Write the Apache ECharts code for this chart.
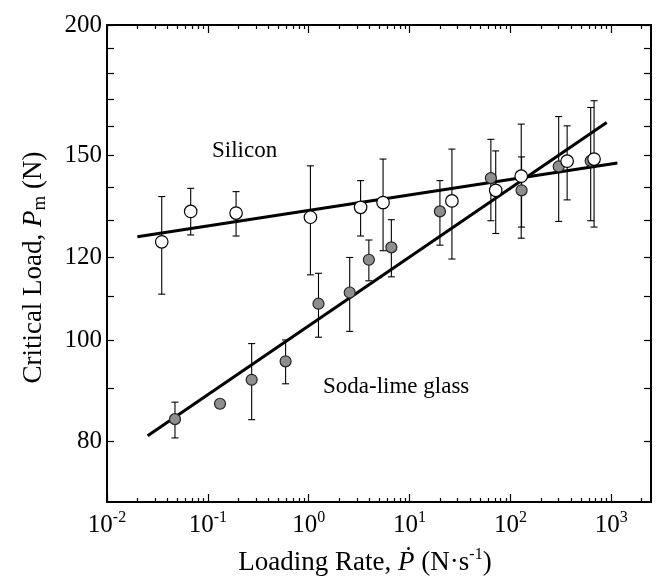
<!DOCTYPE html>
<html><head><meta charset="utf-8">
<script src="https://cdn.jsdelivr.net/npm/echarts@6/dist/echarts.min.js"></script>
<style>html,body{margin:0;padding:0;background:#fff}#c{width:657px;height:582px}</style>
</head><body><div id="c"></div>
<script>
// ---- data ----
const silX    = [0.0349, 0.0676, 0.1905, 1.04, 3.27, 5.46, 26.3, 71.5, 128, 365, 675];
const silY    = [124.1, 132.7, 132.2, 131.0, 133.9, 135.3, 135.8, 139.0, 143.4, 148.2, 148.9];
const silLow  = [110.6, 126.0, 125.7, 115.4, 125.7, 121.7, 119.5, 126.4, 125.1, 136.1, 128.2];
const silHigh = [137.1, 139.6, 138.6, 146.7, 142.0, 148.9, 152.2, 151.6, 160.8, 160.2, 169.3];

const glsX    = [0.0472, 0.132, 0.272, 0.59, 1.25, 2.55, 3.95, 6.6, 20.0, 64, 129, 301, 625];
const glsY    = [84.0, 86.9, 91.6, 95.4, 108.3, 111.0, 119.3, 122.6, 132.7, 142.8, 139.0, 146.5, 148.3];
const glsLow  = [80.6, 86.1, 83.9, 90.8, 100.6, 101.9, 113.9, 114.9, 123.2, 130.0, 128.2, 129.8, 130.0];
const glsHigh = [87.2, 87.7, 99.2, 100.0, 115.8, 119.9, 124.6, 130.3, 142.0, 155.5, 149.6, 163.5, 166.8];

const silFitX = [0.02, 1150];
const silFitY = [125.5, 147.6];
const glsFitX = [0.0253, 900];
const glsFitY = [81.0, 161.4];

const xMin = 0.01, xMax = 2477;
const yMin = 70, yMax = 200;
const xMajorTicks = [0.01, 0.1, 1, 10, 100, 1000];
const xMinorMult  = [2, 3, 4, 5, 6, 7, 8, 9];
const yTicks  = [80, 90, 100, 110, 120, 130, 140, 150, 160, 170, 180, 190, 200];
const yLabels = [80, 100, 120, 150, 200];
// ---------------

const xMinorTicks = [];
xMajorTicks.forEach(d => xMinorMult.forEach(m => {
  const v = Number((m * d).toPrecision(6));
  if (v < xMax) xMinorTicks.push(v);
}));

const FONT = '"Liberation Serif", "DejaVu Serif", serif';
const chart = echarts.init(document.getElementById('c'), null, {renderer: 'canvas'});

const errSeries = (xs, lo, hi) => ({
  type: 'custom', xAxisIndex: 0, yAxisIndex: 0, z: 2, silent: true,
  data: xs.map((x, i) => [x, lo[i], hi[i]]),
  encode: {x: 0, y: [1, 2]},
  renderItem: (params, api) => {
    const x = api.value(0);
    const p1 = api.coord([x, api.value(1)]);
    const p2 = api.coord([x, api.value(2)]);
    const hw = 3.5;
    const st = {stroke: '#000', lineWidth: 1.1};
    return {type: 'group', children: [
      {type: 'line', shape: {x1: p1[0], y1: p1[1], x2: p2[0], y2: p2[1]}, style: st},
      {type: 'line', shape: {x1: p1[0] - hw, y1: p1[1], x2: p1[0] + hw, y2: p1[1]}, style: st},
      {type: 'line', shape: {x1: p2[0] - hw, y1: p2[1], x2: p2[0] + hw, y2: p2[1]}, style: st}
    ]};
  }
});

const axLine = {show: true, lineStyle: {color: '#000', width: 2}};
const mkX = (position, ticks, len, withLabel, withLine) => ({
  type: 'log', logBase: 10, min: xMin, max: xMax, position: position, gridIndex: 0,
  axisLine: withLine ? axLine : {show: false},
  axisTick: {show: true, inside: true, length: len, customValues: ticks, lineStyle: {color: '#000', width: 1.2}},
  axisLabel: withLabel ? {
    show: true, customValues: xMajorTicks, margin: 8,
    formatter: v => '{b|10}{s|' + Math.round(Math.log10(v)) + '}',
    rich: {
      b: {fontFamily: FONT, fontSize: 25, color: '#000', lineHeight: 30, verticalAlign: 'middle'},
      s: {fontFamily: FONT, fontSize: 16, color: '#000', lineHeight: 14, verticalAlign: 'top'}
    }
  } : {show: false},
  splitLine: {show: false}, minorTick: {show: false}
});
const mkY = (position, withLabel) => ({
  type: 'log', logBase: 10, min: yMin, max: yMax, position: position, gridIndex: 0,
  axisLine: axLine,
  axisTick: {show: true, inside: true, length: 7, customValues: yTicks, lineStyle: {color: '#000', width: 1.2}},
  axisLabel: withLabel ? {
    show: true, customValues: yLabels, margin: 5,
    fontFamily: FONT, fontSize: 25, color: '#000',
    formatter: v => String(Math.round(v))
  } : {show: false},
  splitLine: {show: false}, minorTick: {show: false}
});

const xAxes = [
  mkX('bottom', xMajorTicks, 8, true, true),
  mkX('bottom', xMinorTicks, 4, false, false),
  mkX('top', xMajorTicks, 8, false, true),
  mkX('top', xMinorTicks, 4, false, false)
];
Object.assign(xAxes[0], {
  name: '{t|Loading Rate, }{i|\u1E56}{t| (N\u00B7s}{s|-1}{t|)}',
  nameLocation: 'middle', nameGap: 45,
  nameTextStyle: {
    fontFamily: FONT, fontSize: 27, color: '#000', padding: [0, 28, 0, 0],
    rich: {
      t: {fontFamily: FONT, fontSize: 27, color: '#000', lineHeight: 32, verticalAlign: 'middle'},
      i: {fontFamily: FONT, fontSize: 27, color: '#000', fontStyle: 'italic', lineHeight: 32, verticalAlign: 'middle'},
      s: {fontFamily: FONT, fontSize: 16, color: '#000', lineHeight: 15, verticalAlign: 'top'}
    }
  }
});
const yAxes = [mkY('left', true), mkY('right', false)];
Object.assign(yAxes[0], {
  name: '{t|Critical Load, }{i|P}{m|m}{t| (N)}',
  nameLocation: 'middle', nameGap: 57,
  nameTextStyle: {
    fontFamily: FONT, fontSize: 27, color: '#000', padding: [0, 8, 0, 0],
    rich: {
      t: {fontFamily: FONT, fontSize: 27, color: '#000', lineHeight: 32, verticalAlign: 'middle'},
      i: {fontFamily: FONT, fontSize: 27, color: '#000', fontStyle: 'italic', lineHeight: 32, verticalAlign: 'middle'},
      m: {fontFamily: FONT, fontSize: 19, color: '#000', lineHeight: 17, verticalAlign: 'bottom'}
    }
  }
});

chart.setOption({
  animation: false,
  backgroundColor: '#fff',
  grid: {left: 107, right: 6, top: 25, bottom: 80, containLabel: false},
  xAxis: xAxes,
  yAxis: yAxes,
  series: [
    errSeries(silX, silLow, silHigh),
    errSeries(glsX, glsLow, glsHigh),
    {type: 'line', xAxisIndex: 0, yAxisIndex: 0, z: 3, showSymbol: false, silent: true,
     data: silFitX.map((x, i) => [x, silFitY[i]]), lineStyle: {color: '#000', width: 3}},
    {type: 'line', xAxisIndex: 0, yAxisIndex: 0, z: 3, showSymbol: false, silent: true,
     data: glsFitX.map((x, i) => [x, glsFitY[i]]), lineStyle: {color: '#000', width: 3}},
    {type: 'scatter', name: 'Soda-lime glass', xAxisIndex: 0, yAxisIndex: 0, z: 4,
     symbol: 'circle', symbolSize: 11,
     data: glsX.map((x, i) => [x, glsY[i]]),
     itemStyle: {color: '#8e8e8e', borderColor: '#222', borderWidth: 1.2, opacity: 1}},
    {type: 'scatter', name: 'Silicon', xAxisIndex: 0, yAxisIndex: 0, z: 5,
     symbol: 'circle', symbolSize: 12.5,
     data: silX.map((x, i) => [x, silY[i]]),
     itemStyle: {color: '#fff', borderColor: '#000', borderWidth: 1.2, opacity: 1}}
  ],
  graphic: [
    {type: 'text', left: 212, top: 139, silent: true,
     style: {text: 'Silicon', fontFamily: FONT, fontSize: 23, fill: '#000'}},
    {type: 'text', left: 323, top: 375, silent: true,
     style: {text: 'Soda-lime glass', fontFamily: FONT, fontSize: 23, fill: '#000'}}
  ]
});
</script>
</body></html>
